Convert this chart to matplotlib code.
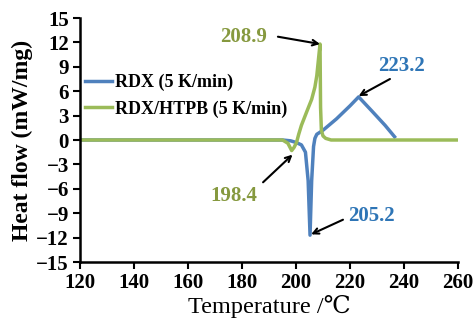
import matplotlib
matplotlib.use("Agg")
import matplotlib.pyplot as plt

# RDX (5 K/min)
rdx_T = [120, 150, 180, 195, 198, 200, 202, 203.5, 204.5, 205.2, 205.8, 206.5, 207.0, 207.7, 210, 215, 220, 223.2, 228, 233, 236.5]
rdx_H = [0.0, 0.0, 0.0, 0.0, -0.1, -0.3, -0.6, -1.5, -5.0, -11.7, -5.0, -0.8, 0.2, 0.7, 1.2, 2.6, 4.2, 5.3, 3.6, 1.8, 0.4]

# RDX/HTPB (5 K/min)
htpb_T = [120, 150, 180, 195, 197, 198.4, 199.3, 200.2, 201, 202, 204, 205.8, 207.0, 207.7, 208.5, 208.9, 209.1, 209.4, 210, 211, 213, 220, 240, 260]
htpb_H = [0.0, 0.0, 0.0, 0.0, -0.4, -1.3, -0.9, -0.3, 0.7, 1.8, 3.5, 5.0, 6.5, 7.9, 10.5, 11.8, 4.0, 1.2, 0.5, 0.2, 0.0, 0.0, 0.0, 0.0]

x_ticks = [120, 140, 160, 180, 200, 220, 240, 260]
y_ticks = [15, 12, 9, 6, 3, 0, -3, -6, -9, -12, -15]

# peak labels
peak_labels = ['208.9', '223.2', '198.4', '205.2']

blue = '#4f81bd'
green = '#9bbb59'
blue_txt = '#2e75b6'
green_txt = '#86993f'

plt.rcParams['font.family'] = ['Liberation Serif', 'DejaVu Serif', 'Noto Sans CJK SC']

fig = plt.figure(figsize=(4.77, 3.31), dpi=100)
ax = fig.add_axes([80/477, 1-262/331, (458-80)/477, (262-18)/331])

ax.plot(rdx_T, rdx_H, color=blue, lw=2.5, label='RDX (5 K/min)')
ax.plot(htpb_T, htpb_H, color=green, lw=2.5, label='RDX/HTPB (5 K/min)')

ax.set_xlim(120, 260)
ax.set_ylim(-15, 15)
ax.set_xticks(x_ticks)
ax.set_yticks(y_ticks)
ax.tick_params(axis='both', labelsize=15, direction='out', length=5, width=1.5, pad=3)
for lab in ax.get_xticklabels() + ax.get_yticklabels():
    lab.set_fontweight('bold')
for s in ['top', 'right']:
    ax.spines[s].set_visible(False)
for s in ['left', 'bottom']:
    ax.spines[s].set_linewidth(1.8)

ax.set_xlabel('Temperature /\u2103', fontsize=17.5, labelpad=1)
ax.set_ylabel('Heat flow (mW/mg)', fontsize=17, fontweight='bold', labelpad=2)

leg = ax.legend(loc='upper left', bbox_to_anchor=(-0.015, 0.815), frameon=False,
                prop={'size': 13, 'weight': 'bold'}, handlelength=1.5,
                handletextpad=0.15, labelspacing=0.5, borderaxespad=0.2)

arrow = dict(arrowstyle='->', color='black', lw=1.5, shrinkA=0, shrinkB=0)
# 208.9
ax.text(180.7, 12.7, peak_labels[0], color=green_txt, fontsize=15, fontweight='bold', ha='center', va='center')
ax.annotate('', xy=(208.9, 11.8), xytext=(193.3, 12.7), arrowprops=arrow)
# 223.2
ax.text(238.9, 9.1, peak_labels[1], color=blue_txt, fontsize=15, fontweight='bold', ha='center', va='center')
ax.annotate('', xy=(223.2, 5.4), xytext=(234.8, 7.5), arrowprops=arrow)
# 198.4
ax.text(177.0, -6.9, peak_labels[2], color=green_txt, fontsize=15, fontweight='bold', ha='center', va='center')
ax.annotate('', xy=(198.7, -1.8), xytext=(187.8, -5.2), arrowprops=arrow)
# 205.2
ax.text(228.1, -9.3, peak_labels[3], color=blue_txt, fontsize=15, fontweight='bold', ha='center', va='center')
ax.annotate('', xy=(205.6, -11.6), xytext=(217.4, -9.8), arrowprops=arrow)

fig.savefig('out.png', dpi=100)
